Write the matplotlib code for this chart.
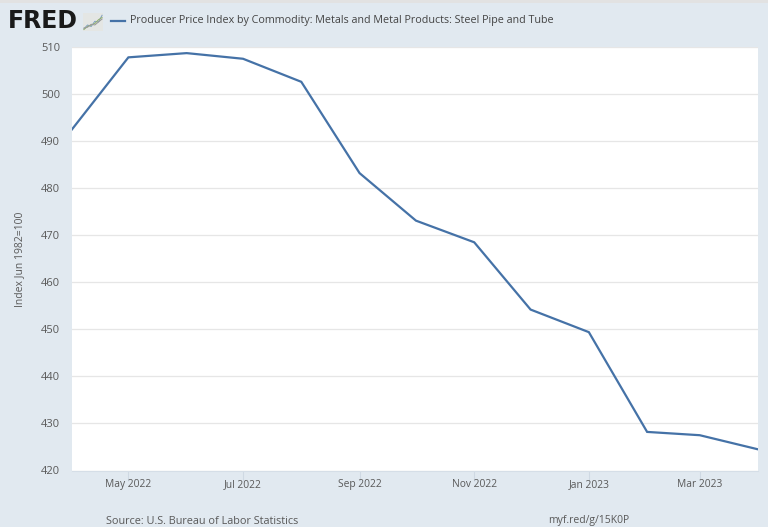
"""FRED chart: PPI for steel pipe and tube, Apr 2022 - Apr 2023."""

from datetime import date

import matplotlib

matplotlib.use("Agg")
import matplotlib.dates as mdates
import matplotlib.pyplot as plt
from matplotlib.patches import Rectangle

plt.rcParams["font.family"] = ["Open Sans", "DejaVu Sans"]

MONTHS = [
    date(2022, 4, 1), date(2022, 5, 1), date(2022, 6, 1), date(2022, 7, 1),
    date(2022, 8, 1), date(2022, 9, 1), date(2022, 10, 1), date(2022, 11, 1),
    date(2022, 12, 1), date(2023, 1, 1), date(2023, 2, 1), date(2023, 3, 1),
    date(2023, 4, 1),
]
PPI = [492.5, 507.8, 508.7, 507.5, 502.6, 483.2, 473.1, 468.5, 454.2, 449.4, 428.2, 427.5, 424.5]
TICK_DATES = [date(2022, 5, 1), date(2022, 7, 1), date(2022, 9, 1),
              date(2022, 11, 1), date(2023, 1, 1), date(2023, 3, 1)]
Y_TICKS = list(range(420, 511, 10))
TITLE = "Producer Price Index by Commodity: Metals and Metal Products: Steel Pipe and Tube"
# little icon next to the logo
ICON_A = [0.05, 0.3, 0.2, 0.55, 0.5, 0.95]
ICON_B = [0.0, 0.2, 0.3, 0.4, 0.65, 0.8]
ICON_C = [0.1, 0.15, 0.35, 0.3, 0.5, 0.7]

BG = "#e1e9f0"
LINE = "#4572a7"
GRID = "#e6e6e6"
TEXT = "#595959"

W, H = 768, 527
fig = plt.figure(figsize=(W / 100, H / 100), dpi=100, facecolor=BG)

# grey strip along the top of the screenshot
fig.add_artist(Rectangle((0, 1 - 3 / H), 1, 3 / H, transform=fig.transFigure, color="#e2e2e2", lw=0))

ax = fig.add_axes([72 / W, 1 - 470.5 / H, (758 - 72) / W, (470.5 - 47) / H])
ax.set_facecolor("white")
ax.plot(MONTHS, PPI, color=LINE, lw=1.6, solid_joinstyle="miter", zorder=3)

ax.set_xlim(MONTHS[0], MONTHS[-1])
ax.set_ylim(420, 510)
ax.set_yticks(Y_TICKS)
ax.set_xticks(TICK_DATES)
ax.xaxis.set_major_formatter(mdates.DateFormatter("%b %Y"))
ax.grid(axis="y", color=GRID, lw=0.9)
ax.set_axisbelow(True)
ax.tick_params(axis="y", length=0, pad=8.5, labelsize=8, labelcolor=TEXT)
ax.tick_params(axis="x", length=7, width=0.8, color="#cfd9e3", pad=-1, labelsize=7.4, labelcolor=TEXT)
for name, spine in ax.spines.items():
    spine.set_visible(name == "bottom")
ax.spines["bottom"].set_color("#d5dee7")
ax.spines["bottom"].set_linewidth(0.8)

fig.text(20 / W, 1 - 259 / H, "Index Jun 1982=100", rotation=90, ha="center", va="center",
         fontsize=7.5, color=TEXT)

# header: logo, icon, legend
fig.text(8 / W, 1 - 21.5 / H, "FRED", ha="left", va="center", fontsize=17, fontweight="bold",
         family="DejaVu Sans", color="#1a1a1a")
icon = fig.add_axes([83 / W, 1 - 31 / H, 20 / W, 18 / H], facecolor="#e4e6e4")
icon.plot(ICON_A, color="#7f9fbf", lw=0.7)
icon.plot(ICON_B, color="#8fae6a", lw=0.7)
icon.plot(ICON_C, color="#9a9a9a", lw=0.7)
icon.set_xticks([])
icon.set_yticks([])
icon.set_ylim(-0.1, 1.1)
for spine in icon.spines.values():
    spine.set_visible(False)

fig.add_artist(plt.Line2D([111 / W, 125 / W], [1 - 21 / H, 1 - 21 / H], color=LINE, lw=1.6))
fig.text(130 / W, 1 - 21 / H, TITLE, ha="left", va="center", fontsize=7.75, color="#444444")

# footer
fig.text(106 / W, 1 - 521 / H, "Source: U.S. Bureau of Labor Statistics", ha="left", va="center",
         fontsize=7.8, color=TEXT)
fig.text(548 / W, 1 - 521 / H, "myf.red/g/15K0P", ha="left", va="center", fontsize=7.5, color=TEXT)

fig.savefig("out.png", dpi=100, facecolor=BG)
